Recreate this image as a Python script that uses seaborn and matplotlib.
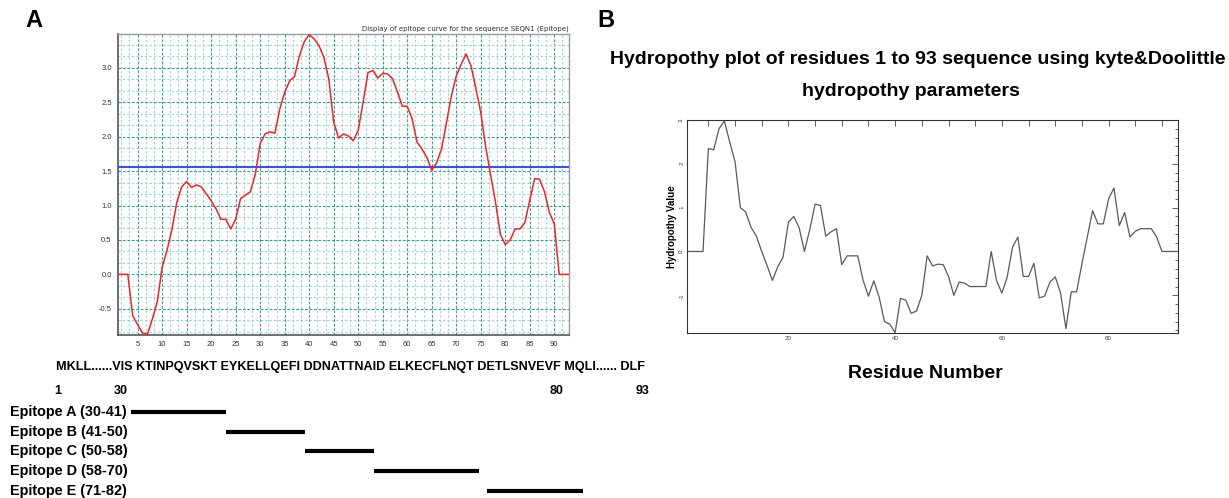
import numpy as np
import pandas as pd
import matplotlib
matplotlib.use('Agg')
import matplotlib.pyplot as plt
import matplotlib.transforms as mtransforms
from matplotlib.ticker import MultipleLocator, FormatStrFormatter
import seaborn as sns

sns.set_style("white")
plt.rcParams['font.family'] = ['Liberation Sans', 'DejaVu Sans']
plt.rcParams['text.color'] = 'black'
plt.rcParams['axes.labelcolor'] = 'black'

# ---------------------------------------------------------
# DATA
# ---------------------------------------------------------
residues = list(range(1, 94))

# Panel A: epitope prediction curve
epitope_score = [
    0.0, 0.0, 0.0, -0.6, -0.73, -0.85, -0.87, -0.65, -0.4, 0.1,
    0.35, 0.65, 1.05, 1.27, 1.35, 1.26, 1.3, 1.27, 1.17, 1.07,
    0.95, 0.8, 0.8, 0.66, 0.8, 1.1, 1.15, 1.2, 1.45, 1.9,
    2.04, 2.07, 2.05, 2.4, 2.64, 2.81, 2.87, 3.17, 3.38, 3.48,
    3.42, 3.32, 3.15, 2.84, 2.21, 1.98, 2.04, 2.01, 1.94, 2.09,
    2.5, 2.93, 2.96, 2.85, 2.92, 2.91, 2.84, 2.65, 2.44, 2.44,
    2.26, 1.92, 1.82, 1.7, 1.51, 1.62, 1.82, 2.2, 2.59, 2.88,
    3.05, 3.2, 3.03, 2.7, 2.35, 1.85, 1.45, 1.05, 0.58, 0.43,
    0.5, 0.66, 0.66, 0.75, 1.08, 1.39, 1.38, 1.2, 0.9, 0.73,
    0.0, 0.0, 0.0,
]
threshold = 1.56
title_a = "Display of epitope curve for the sequence SEQN1 (Epitope)"

# Panel B: Kyte & Doolittle hydropathy
hydropathy = [
    0.0, 0.0, 0.0, 0.0, 2.35, 2.32, 2.8, 2.98, 2.5, 2.05,
    1.0, 0.9, 0.55, 0.35, 0.0, -0.32, -0.66, -0.35, -0.13, 0.67,
    0.8, 0.55, 0.0, 0.5, 1.08, 1.05, 0.35, 0.45, 0.52, -0.3,
    -0.1, -0.1, -0.1, -0.66, -1.02, -0.67, -1.04, -1.6, -1.66, -1.85,
    -1.07, -1.11, -1.41, -1.36, -1.0, -0.1, -0.33, -0.29, -0.3, -0.57,
    -1.0, -0.7, -0.72, -0.8, -0.8, -0.8, -0.8, 0.0, -0.66, -0.95,
    -0.58, 0.1, 0.33, -0.57, -0.57, -0.27, -1.06, -1.02, -0.7, -0.58,
    -0.95, -1.76, -0.92, -0.92, -0.28, 0.33, 0.93, 0.63, 0.63, 1.2,
    1.45, 0.59, 0.89, 0.33, 0.46, 0.52, 0.52, 0.52, 0.33, 0.0,
    0.0, 0.0, 0.0,
]
title_b = ["Hydropothy plot of residues 1 to 93 sequence using kyte&Doolittle",
           "hydropothy parameters"]

# Sequence strip and epitopes
sequence_text = ("MKLL......VIS KTINPQVSKT EYKELLQEFI DDNATTNAID "
                 "ELKECFLNQT DETLSNVEVF MQLI...... DLF")
position_labels = ['1', '30', '80', '93']
epitope_names = ['A', 'B', 'C', 'D', 'E']
epitope_start = [30, 41, 50, 58, 71]
epitope_end = [41, 50, 58, 70, 82]

# ---------------------------------------------------------
# LAYOUT (pixel boxes on the 1229x498 canvas)
# ---------------------------------------------------------
W, H = 1229, 498
def box(l, t, r, b):
    return [l / W, 1 - b / H, (r - l) / W, (b - t) / H]

fig = plt.figure(figsize=(W / 100, H / 100), dpi=100)

# ---------------------------------------------------------
# PANEL A
# ---------------------------------------------------------
axA = fig.add_axes(box(118, 34, 569, 335))
dfA = pd.DataFrame({'residue': residues, 'score': epitope_score})
axA.axhline(threshold, color='#3d52d8', lw=1.5, zorder=2)
sns.lineplot(data=dfA, x='residue', y='score', ax=axA, color='#e8262b', lw=1.1, zorder=3)
axA.set_xlim(1, 93)
axA.set_ylim(min(epitope_score) - 0.01, max(epitope_score) + 0.01)
axA.xaxis.set_major_locator(MultipleLocator(5))
axA.xaxis.set_minor_locator(MultipleLocator(5 / 3))
axA.yaxis.set_major_locator(MultipleLocator(0.5))
axA.yaxis.set_minor_locator(MultipleLocator(0.5 / 3))
axA.yaxis.set_major_formatter(FormatStrFormatter('%.1f'))
axA.grid(which='major', color='#3a9a94', ls=(0, (2.5, 1.5)), lw=0.8)
axA.grid(which='minor', color='#96d6d2', ls=(0, (2, 2)), lw=0.8)
axA.set_axisbelow(True)
axA.tick_params(which='major', direction='out', length=3, width=0.8,
                labelsize=5.5, colors='#333333', pad=1.5)
axA.tick_params(which='minor', direction='out', length=1.5, width=0.6, colors='#333333')
for s in ['left', 'bottom']:
    axA.spines[s].set_color('#555555')
    axA.spines[s].set_linewidth(1.2)
for s in ['top', 'right']:
    axA.spines[s].set_color('#9a9a9a')
    axA.spines[s].set_linewidth(1.0)
axA.set_xlabel('')
axA.set_ylabel('')
axA.text(1.0, 1.006, title_a, transform=axA.transAxes, ha='right', va='bottom',
         fontsize=5, color='#333333', family=['DejaVu Sans'])

fig.text(25 / W, 1 - 20 / H, 'A', fontsize=17, weight='bold', ha='left', va='center')

# sequence strip
fig.text(350 / W, 1 - 367 / H, sequence_text, fontsize=9.1, weight='bold',
         ha='center', va='center')
label_x = [58, 121, 557, 643]
for lab, px in zip(position_labels, label_x):
    fig.text(px / W, 1 - 391 / H, lab, fontsize=9, weight='bold', ha='center', va='center')

# epitope bars: residue numbers mapped linearly onto the sequence strip
axE = fig.add_axes(box(0, 404, 650, 498))
px_per_res, ref_res, ref_px = 8.7, 55.1, 349.0
axE.set_xlim(ref_res - ref_px / px_per_res, ref_res + (650 - ref_px) / px_per_res)
rows = list(range(len(epitope_names)))
row_px = 19.75
axE.set_ylim(-0.405 + 94 / row_px, -0.405)
axE.hlines(rows, epitope_start, epitope_end, color='black', lw=3)
trans = mtransforms.blended_transform_factory(axE.transAxes, axE.transData)
for i, (n, s, e) in enumerate(zip(epitope_names, epitope_start, epitope_end)):
    axE.text(10 / 650, i, f"Epitope {n} ({s}-{e})", transform=trans, ha='left',
             va='center', fontsize=10.4, weight='bold')
axE.axis('off')

# ---------------------------------------------------------
# PANEL B
# ---------------------------------------------------------
axB = fig.add_axes(box(687, 120, 1178, 333))
sns.lineplot(x=residues, y=hydropathy, ax=axB, color='#5a5a5a', lw=0.9)
axB.set_xlim(1, 93)
axB.set_ylim(min(hydropathy) - 0.01, max(hydropathy) + 0.02)
axB.xaxis.set_major_locator(MultipleLocator(20))
axB.xaxis.set_minor_locator(MultipleLocator(5))
axB.yaxis.set_major_locator(MultipleLocator(1))
axB.yaxis.set_minor_locator(MultipleLocator(0.2))
axB.yaxis.set_major_formatter(FormatStrFormatter('%d'))
axB.tick_params(which='both', direction='in', top=True, right=True,
                width=0.6, colors='#444444', labelsize=4.5, pad=2)
axB.tick_params(which='major', length=4)
axB.tick_params(axis='x', which='minor', length=4)
axB.tick_params(axis='y', which='minor', length=2)
axB.tick_params(axis='y', labelrotation=90)
for s in axB.spines.values():
    s.set_color('#333333')
    s.set_linewidth(0.8)
axB.set_xlabel('')
axB.set_ylabel('Hydropothy Value', fontsize=7, weight='bold', labelpad=1.5)

fig.text(597 / W, 1 - 20 / H, 'B', fontsize=17, weight='bold', ha='left', va='center')
fig.text(918 / W, 1 - 60 / H, title_b[0], fontsize=14, weight='bold', ha='center', va='center')
fig.text(911 / W, 1 - 92 / H, title_b[1], fontsize=14, weight='bold', ha='center', va='center')
fig.text(925 / W, 1 - 373 / H, 'Residue Number', fontsize=14, weight='bold',
         ha='center', va='center')

fig.savefig('out.png', dpi=100)
